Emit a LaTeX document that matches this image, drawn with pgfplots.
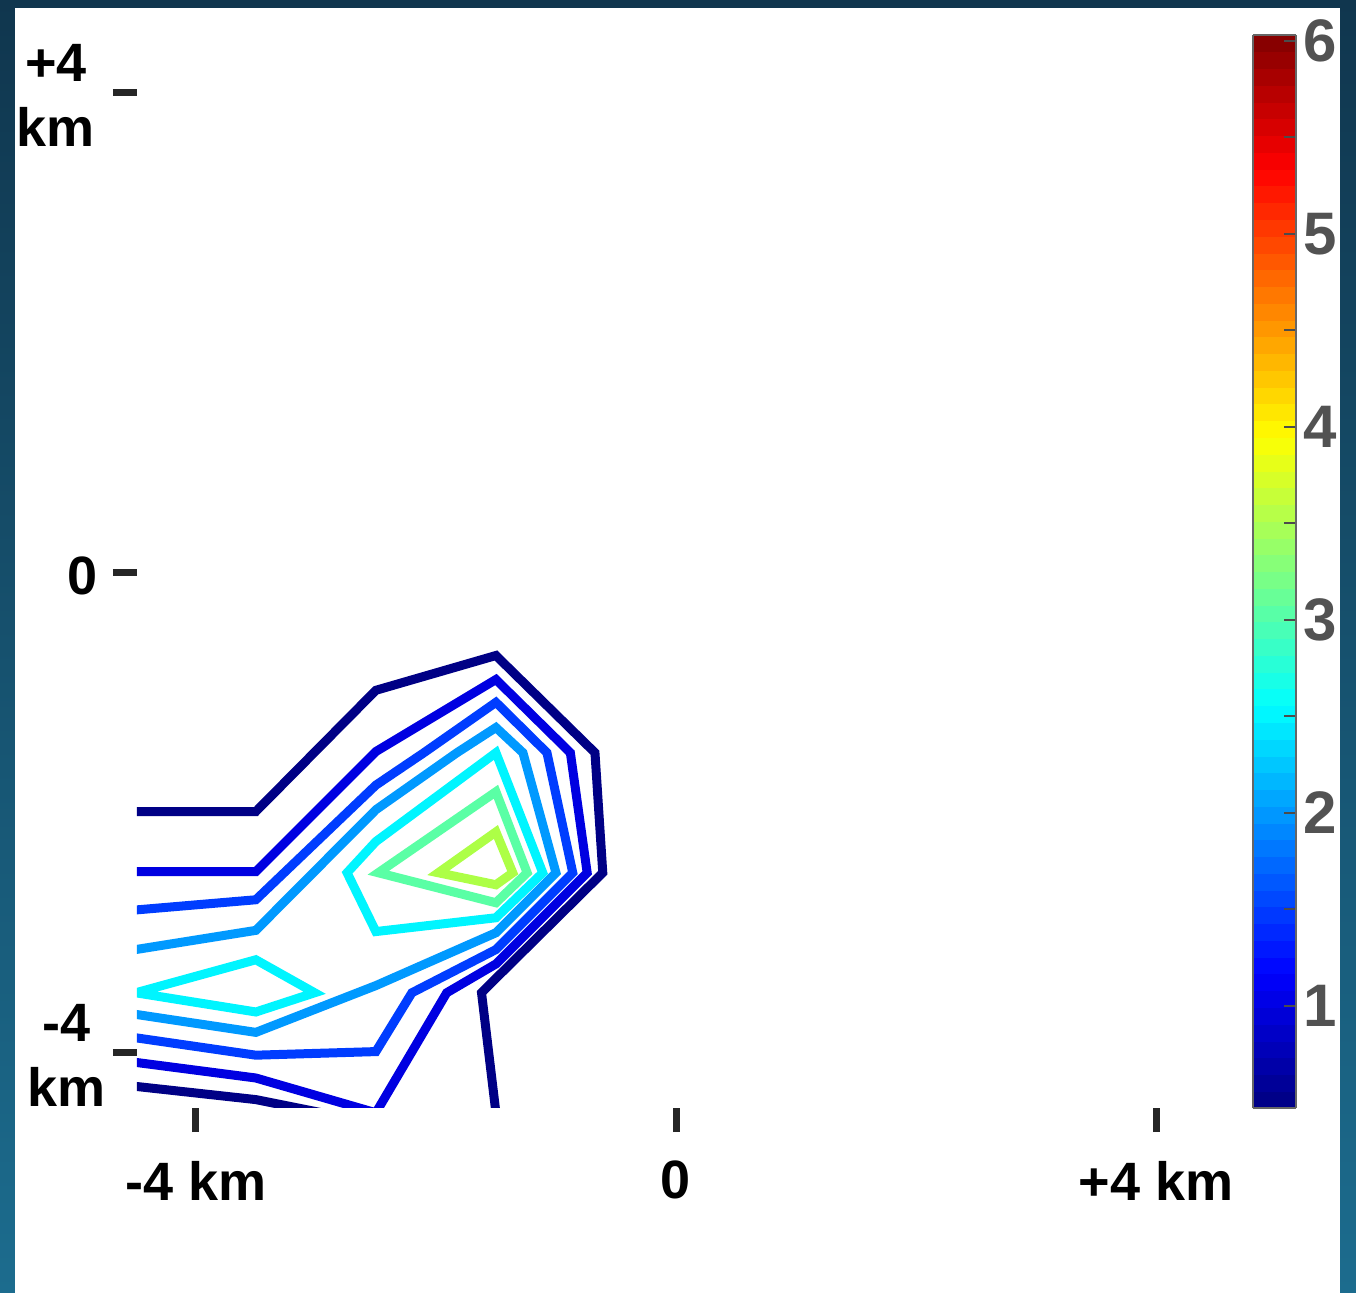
\documentclass[border=0pt]{standalone}
\usepackage{fontspec}
\setmainfont{Liberation Sans}
\usepackage{pgfplots}
\pgfplotsset{compat=1.18}
\definecolor{frameTop}{RGB}{16,54,78}
\definecolor{frameBot}{RGB}{28,108,142}
\definecolor{cA}{RGB}{0,0,133}
\definecolor{cB}{RGB}{0,0,225}
\definecolor{cC}{RGB}{0,61,255}
\definecolor{cD}{RGB}{0,153,255}
\definecolor{cE}{RGB}{0,245,255}
\definecolor{cF}{RGB}{90,255,165}
\definecolor{cG}{RGB}{173,255,70}
\begin{document}
\begin{tikzpicture}
\shade[top color=frameTop, bottom color=frameBot] (0,0) rectangle (678pt,-646.5pt);
\fill[white] (7.5pt,-4pt) rectangle (670pt,-646.5pt);
\begin{axis}[
  at={(68.5pt,-554pt)}, anchor=south west,
  scale only axis, width=539pt, height=536.5pt,
  xmin=-4.49, xmax=4.49, ymin=-4.46, ymax=4.48,
  axis x line*=bottom, axis y line*=left,
  axis line style={draw=none},
  tick align=outside,
  major tick length=12pt,
  major tick style={line width=3.5pt, black!85},
  xtick={-4,0,4}, xticklabels={-4 km,0,+4 km},
  ytick={-4,0,4}, yticklabels={{-4\\km},{0\hspace*{4pt}},{+4\hspace*{5.5pt}\\km\hspace*{5.5pt}}},
  ticklabel style={font=\bfseries\fontsize{27}{32.5}\selectfont, text=black},
  xticklabel style={yshift=-11pt},
  yticklabel style={align=center, yshift=-1.5pt},
  clip=true,
  every axis plot/.append style={line width=4.5pt, mark=none},
  colorbar sampled, colormap/jet, point meta min=0.47, point meta max=6.03,
  colorbar style={
    at={(parent axis.north east)}, anchor=north west, xshift=10.5pt,
    width=21.5pt,
    samples=65,
    ytick={1,2,3,4,5,6},
    yticklabels={1,2,3,4,5,6},
    minor ytick={1.5,2.5,3.5,4.5,5.5},
    tick align=inside,
    ytick pos=right,
    major tick length=6pt, minor tick length=6pt,
    major tick style={line width=0.8pt, black!70},
    minor tick style={line width=0.8pt, black!70},
    yticklabel style={font=\bfseries\fontsize{30}{30}\selectfont, text=black!68},
    axis line style={black!60, line width=0.8pt},
  },
]
% level 0.5
\addplot[cA] coordinates {(-4.5,-1.99) (-3.5,-1.99) (-2.5,-0.98) (-1.5,-0.69) (-0.675,-1.5) (-0.61,-2.5) (-1.5,-3.38) (-1.62,-3.5) (-1.5,-4.5)};
\addplot[cA] coordinates {(-4.5,-4.28) (-3.5,-4.39) (-2.95,-4.5)};
% level 1
\addplot[cB] coordinates {(-4.5,-2.49) (-3.5,-2.49) (-2.5,-1.49) (-1.5,-0.89) (-0.88,-1.5) (-0.74,-2.5) (-1.5,-3.26) (-1.91,-3.5) (-2.5,-4.5) (-3.5,-4.21) (-4.5,-4.08)};
% level 1.5
\addplot[cC] coordinates {(-4.5,-2.81) (-3.5,-2.725) (-2.5,-1.77) (-2.1,-1.5) (-1.5,-1.08) (-1.075,-1.5) (-0.86,-2.5) (-1.5,-3.14) (-2.2,-3.5) (-2.5,-3.99) (-3.5,-4.02) (-4.5,-3.875)};
% level 2
\addplot[cD] coordinates {(-4.5,-3.14) (-3.5,-2.98) (-2.5,-1.975) (-1.825,-1.5) (-1.5,-1.29) (-1.275,-1.5) (-1.0,-2.5) (-1.5,-3.0) (-2.5,-3.44) (-3.5,-3.83) (-4.5,-3.68)};
% level 2.5
\addplot[cE] coordinates {(-2.74,-2.5) (-2.5,-2.24) (-1.5,-1.5) (-1.11,-2.5) (-1.5,-2.875) (-2.5,-2.99)} -- cycle;
\addplot[cE] coordinates {(-4.5,-3.5) (-3.5,-3.225) (-3.01,-3.5) (-3.5,-3.66)} -- cycle;
% level 3
\addplot[cF] coordinates {(-2.48,-2.5) (-1.5,-1.825) (-1.24,-2.5) (-1.5,-2.75)} -- cycle;
% level 3.5
\addplot[cG] coordinates {(-1.98,-2.5) (-1.5,-2.16) (-1.36,-2.5) (-1.5,-2.6)} -- cycle;
\end{axis}
\pgfresetboundingbox
\useasboundingbox (0,0) rectangle (678pt,-646.5pt);
\end{tikzpicture}
\end{document}
